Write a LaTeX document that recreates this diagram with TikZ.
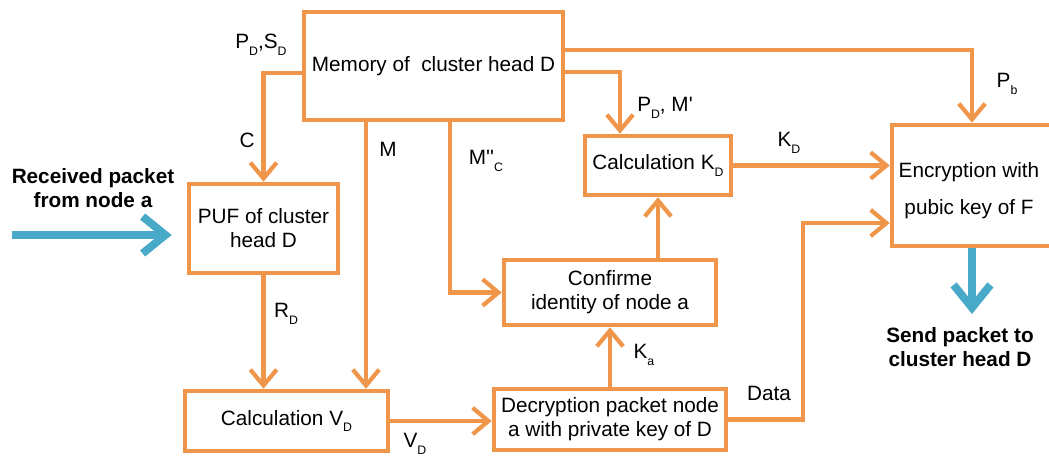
\documentclass[tikz,border=0pt]{standalone}
\usepackage{fontspec}
\setmainfont{Liberation Sans}
\usetikzlibrary{arrows.meta,calc}
\definecolor{org}{RGB}{240,150,75}
\definecolor{blu}{RGB}{72,170,200}
\newcommand{\sbx}[1]{\raisebox{-0.6ex}{\fontsize{7}{7}\selectfont #1}}
\newcommand{\sq}{\textquotesingle}
\begin{document}
\begin{tikzpicture}[x=0.02cm, y=-0.02cm,
  font=\fontsize{11.8}{13.6}\selectfont,
  box/.style={draw=org, line width=2.6pt, inner sep=0pt, align=center},
  arr/.style={draw=org, line width=2.4pt, line join=miter, -{Straight Barb[length=9pt,width=15pt]}},
  lbl/.style={inner sep=0pt},
  bold/.style={inner sep=0pt, align=center, font=\fontsize{11.8}{13.6}\selectfont\bfseries},
  barr/.style={draw=blu, line width=4.5pt, -{Straight Barb[length=13pt,width=21pt]}}]
\useasboundingbox (0,0) rectangle (1049,457);

% boxes
\node[box, minimum width=5.18cm, minimum height=2.16cm] (mem) at (433.5,66) {Memory of~ cluster head D};
\node[box, minimum width=2.98cm, minimum height=1.78cm] (puf) at (263.5,228.5) {PUF of cluster\\head D};
\node[box, minimum width=4.06cm, minimum height=1.2cm] (cvd) at (286.5,421) {Calculation V\sbx{D}};
\node[box, minimum width=4.64cm, minimum height=1.22cm] (dec) at (610,419.5) {Decryption packet node\\a with private key of D};
\node[box, minimum width=4.24cm, minimum height=1.3cm] (conf) at (610,292.5) {Confirme\\identity of node a};
\node[box, minimum width=2.92cm, minimum height=1.18cm] (ckd) at (658,165.5) {Calculation K\sbx{D}};
\node[box, minimum width=3.56cm, minimum height=2.42cm] (enc) at (981,185.5) {};
\node[lbl, align=center] (enct) at (969,191) {Encryption with\\[7.5pt]pubic key of F};

% helper coordinates
\coordinate (mx) at (366,0);
\coordinate (mcx) at (450,0);
\coordinate (pby) at (0,50);
\coordinate (pdy) at (0,72);
\coordinate (pdx) at (620,0);
\coordinate (encx) at (972,0);
\coordinate (dx) at (803,0);
\coordinate (dy) at (0,223);
\coordinate (src) at (12,235);
\coordinate (dst) at (972,314);

% connectors
\draw[arr] ($(mem.west)+(0,7)$) -| (puf.north);
\draw[arr] (mem.south -| mx) -- (cvd.north -| mx);
\draw[arr] (mem.south -| mcx) |- (conf.west);
\draw[arr] (mem.east |- pby) -| (enc.north -| encx);
\draw[arr] (mem.east |- pdy) -| (ckd.north -| pdx);
\draw[arr] (ckd.east) -- (enc.west |- ckd.east);
\draw[arr] (conf.north -| ckd.south) -- (ckd.south);
\draw[arr] (dec.north) -- (conf.south);
\draw[arr] (cvd.east) -- (dec.west |- cvd.east);
\draw[arr] (dec.east) -| (dx |- dy) -- (enc.west |- dy);
\draw[arr] (puf.south) -- (cvd.north -| puf.south);

% blue arrows
\draw[barr, shorten >=0.3cm] (src) -- (puf.west |- src);
\draw[barr] (enc.south -| encx) -- (dst);

% labels
\node[lbl] (lpd) at (261,45) {P\sbx{D},S\sbx{D}};
\node[lbl] (lc) at (247,140) {C};
\node[lbl] (lm) at (388,149) {M};
\node[lbl] (lmc) at (486,161) {M\sq\sq\sbx{C}};
\node[lbl] (lpm) at (665,108) {P\sbx{D}, M\sq};
\node[lbl] (lpb) at (1007,84) {P\sbx{b}};
\node[lbl] (lkd) at (789,143) {K\sbx{D}};
\node[lbl] (lka) at (644,355) {K\sbx{a}};
\node[lbl] (lvd) at (415,444) {V\sbx{D}};
\node[lbl] (ldata) at (769,393) {Data};
\node[lbl] (lrd) at (286,314) {R\sbx{D}};
\node[bold] (recv) at (93,188) {Received packet\\from node a};
\node[bold] (send) at (960,347) {Send packet to\\cluster head D};
\end{tikzpicture}
\end{document}
